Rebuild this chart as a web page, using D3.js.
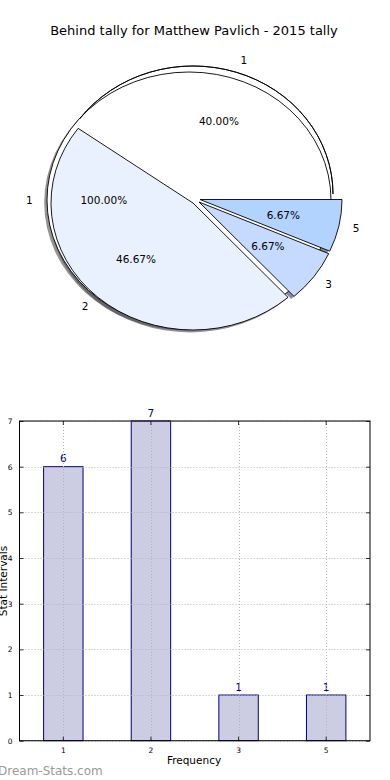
<!DOCTYPE html>
<html>
<head>
<meta charset="utf-8">
<script src="https://cdn.jsdelivr.net/npm/d3@7"></script>
<style>
  html, body { margin: 0; padding: 0; background: #ffffff; }
  svg { display: block; font-family: "DejaVu Sans", sans-serif; }
</style>
</head>
<body>
<svg id="chart" width="390" height="780"></svg>
<script>
// ---------------- data ----------------
const titleText = "Behind tally for Matthew Pavlich - 2015 tally";
const outerLabels = ["1"];          // first (single-value) pie
const outerValues = [1];
const pieLabels = ["1", "2", "3", "5"];
const pieValues = [6, 7, 1, 1];
const pieColors = ["#ffffff", "#eaf1fe", "#c6d9fe", "#b2d3fe"];
const barCategories = ["1", "2", "3", "5"];
const barValues = [6, 7, 1, 1];
const yTickValues = [0, 1, 2, 3, 4, 5, 6, 7];
const xAxisTitle = "Frequency";
const yAxisTitle = "Stat Intervals";
const watermark = "Dream-Stats.com";

// ---------------- layout (style) ----------------
const svg = d3.select("#chart");
const R = 100; // unit radius for d3.arc, scaled to ellipse
const outerGeom = { cx: 189, cy: 200, rx: 142, ry: 128 };
const wedgeGeom = [
  { cx: 193, cy: 194, rx: 140, ry: 128 },
  { cx: 193, cy: 203, rx: 142, ry: 127 },
  { cx: 199, cy: 202, rx: 142, ry: 127 },
  { cx: 200, cy: 199.5, rx: 142, ry: 127 }
];
const shadowOff = { dx: -2.8, dy: 2.5 };

svg.append("text")
  .attr("x", 194).attr("y", 34.5)
  .attr("text-anchor", "middle")
  .attr("font-size", 13)
  .attr("fill", "#000")
  .text(titleText);

// pie generators: matplotlib convention (start at 3 o'clock, counter-clockwise)
const pieGen = d3.pie().sort(null).value(d => d)
  .startAngle(Math.PI / 2).endAngle(Math.PI / 2 - 2 * Math.PI);
const outerArcs = pieGen(outerValues);
const arcs = pieGen(pieValues);
const arcGen = d3.arc().innerRadius(0).outerRadius(R);
const rimGen = d3.arc().innerRadius(R).outerRadius(R);

const pieG = svg.append("g");
function place(g) { return `translate(${g.cx},${g.cy}) scale(${g.rx / R},${g.ry / R})`; }
function shadowPlace(g) { return `translate(${g.cx + shadowOff.dx},${g.cy + shadowOff.dy}) scale(${g.rx / R},${g.ry / R})`; }

// shadows (behind all wedges)
pieG.append("path").attr("d", arcGen(outerArcs[0]))
  .attr("transform", shadowPlace(outerGeom))
  .attr("fill", "#4d4d4d").attr("opacity", 0.6);
arcs.forEach((a, i) => {
  const c = d3.color(pieColors[i]);
  pieG.append("path").attr("d", arcGen(a))
    .attr("transform", shadowPlace(wedgeGeom[i]))
    .attr("fill", d3.rgb(c.r * 0.3, c.g * 0.3, c.b * 0.3))
    .attr("opacity", 0.6);
});

// full circle from first pie + first wedge
pieG.append("path").attr("d", arcGen(outerArcs[0]))
  .attr("transform", place(outerGeom)).attr("fill", "#ffffff");
pieG.append("path").attr("d", arcGen(arcs[0]))
  .attr("transform", place(wedgeGeom[0])).attr("fill", pieColors[0]);
pieG.append("path").attr("d", arcGen(outerArcs[0]))
  .attr("transform", place(outerGeom)).attr("fill", "none")
  .attr("stroke", "#000").attr("stroke-width", 0.9).attr("vector-effect", "non-scaling-stroke");
pieG.append("path").attr("d", rimGen(arcs[0]))
  .attr("transform", place(wedgeGeom[0])).attr("fill", "none")
  .attr("stroke", "#000").attr("stroke-width", 0.9).attr("vector-effect", "non-scaling-stroke");

// remaining wedges
arcs.slice(1).forEach((a, j) => {
  const i = j + 1;
  pieG.append("path").attr("d", arcGen(a))
    .attr("transform", place(wedgeGeom[i]))
    .attr("fill", pieColors[i])
    .attr("stroke", "#000").attr("stroke-width", 0.9)
    .attr("stroke-linejoin", "miter")
    .attr("vector-effect", "non-scaling-stroke");
});

// labels (labeldistance 1.1, pctdistance 0.6)
function midMpl(a) { return Math.PI / 2 - (a.startAngle + a.endAngle) / 2; }
function addPieTexts(a, g, label, total) {
  const t = midMpl(a);
  const lx = g.cx + 1.1 * g.rx * Math.cos(t);
  const ly = g.cy - 1.1 * g.ry * Math.sin(t);
  svg.append("text").attr("x", lx).attr("y", ly)
    .attr("dy", "0.35em")
    .attr("text-anchor", Math.cos(t) > 0 ? "start" : "end")
    .attr("font-size", 10.5).attr("fill", "#000").text(label);
  const px = g.cx + 0.6 * g.rx * Math.cos(t);
  const py = g.cy - 0.6 * g.ry * Math.sin(t);
  svg.append("text").attr("x", px).attr("y", py)
    .attr("dy", "0.35em").attr("text-anchor", "middle")
    .attr("font-size", 10.5).attr("fill", "#000")
    .text((100 * a.value / total).toFixed(2) + "%");
}
const outerTotal = d3.sum(outerValues);
addPieTexts(outerArcs[0], outerGeom, outerLabels[0], outerTotal);
const total = d3.sum(pieValues);
arcs.forEach((a, i) => addPieTexts(a, wedgeGeom[i], pieLabels[i], total));

// ---------------- bar chart ----------------
const plot = { left: 19.5, right: 370, top: 421, bottom: 740.7 };
const x = d3.scaleBand().domain(barCategories).range([plot.left, plot.right]).padding(0);
const y = d3.scaleLinear().domain([0, 7]).range([plot.bottom, plot.top]);
const barW = x.bandwidth() * 0.45;
const barG = svg.append("g");

barG.selectAll("rect.bar").data(barValues).enter().append("rect")
  .attr("class", "bar")
  .attr("x", (d, i) => x(barCategories[i]) + x.bandwidth() / 2 - barW / 2)
  .attr("y", d => y(d))
  .attr("width", barW)
  .attr("height", d => y(0) - y(d))
  .attr("fill", "#cccce2")
  .attr("stroke", "#000080").attr("stroke-width", 1);

// grid (on top of bars)
const gridG = svg.append("g").attr("stroke", "#b4b4b4").attr("stroke-width", 1)
  .attr("stroke-dasharray", "1,2");
yTickValues.forEach(v => {
  gridG.append("line").attr("x1", plot.left).attr("x2", plot.right)
    .attr("y1", Math.round(y(v)) + 0.5).attr("y2", Math.round(y(v)) + 0.5);
});
barCategories.forEach(c => {
  const cx = Math.round(x(c) + x.bandwidth() / 2) + 0.5;
  gridG.append("line").attr("x1", cx).attr("x2", cx)
    .attr("y1", plot.top).attr("y2", plot.bottom);
});

// axes via d3 (ticks inward)
const yAxisL = d3.axisLeft(y).tickValues(yTickValues).tickSize(-4).tickPadding(7).tickFormat(d3.format("d"));
const yAxisR = d3.axisRight(y).tickValues(yTickValues).tickSize(-4).tickFormat("");
const xAxisB = d3.axisBottom(x).tickSize(-4).tickPadding(7);
const xAxisT = d3.axisTop(x).tickSize(-4).tickFormat("");
function styleAxis(g) {
  g.select(".domain").remove();
  g.selectAll("line").attr("stroke", "#000").attr("stroke-width", 0.8);
  g.selectAll("text").attr("font-size", 7.5).attr("fill", "#000")
    .attr("font-family", "DejaVu Sans, sans-serif");
}
svg.append("g").attr("transform", `translate(${plot.left},0)`).call(yAxisL).call(styleAxis);
svg.append("g").attr("transform", `translate(${plot.right},0)`).call(yAxisR).call(styleAxis);
svg.append("g").attr("transform", `translate(0,${plot.bottom})`).call(xAxisB).call(styleAxis);
svg.append("g").attr("transform", `translate(0,${plot.top})`).call(xAxisT).call(styleAxis);

// frame
svg.append("rect").attr("x", plot.left).attr("y", plot.top)
  .attr("width", plot.right - plot.left).attr("height", plot.bottom - plot.top)
  .attr("fill", "none").attr("stroke", "#000").attr("stroke-width", 1);

// value labels
barG.selectAll("text.val").data(barValues).enter().append("text")
  .attr("class", "val")
  .attr("x", (d, i) => x(barCategories[i]) + x.bandwidth() / 2)
  .attr("y", d => y(d) - 4.5)
  .attr("text-anchor", "middle")
  .attr("font-size", 10.5).attr("fill", "#00008b")
  .text(d => d);

svg.append("text").attr("x", 194).attr("y", 764)
  .attr("text-anchor", "middle").attr("font-size", 10.5).attr("fill", "#000")
  .text(xAxisTitle);
svg.append("text")
  .attr("transform", `translate(7,581) rotate(-90)`)
  .attr("text-anchor", "middle").attr("font-size", 10.5).attr("fill", "#000")
  .text(yAxisTitle);

svg.append("text").attr("x", -2).attr("y", 775)
  .attr("font-size", 12).attr("fill", "#9a9a9a")
  .text(watermark);
</script>
</body>
</html>
